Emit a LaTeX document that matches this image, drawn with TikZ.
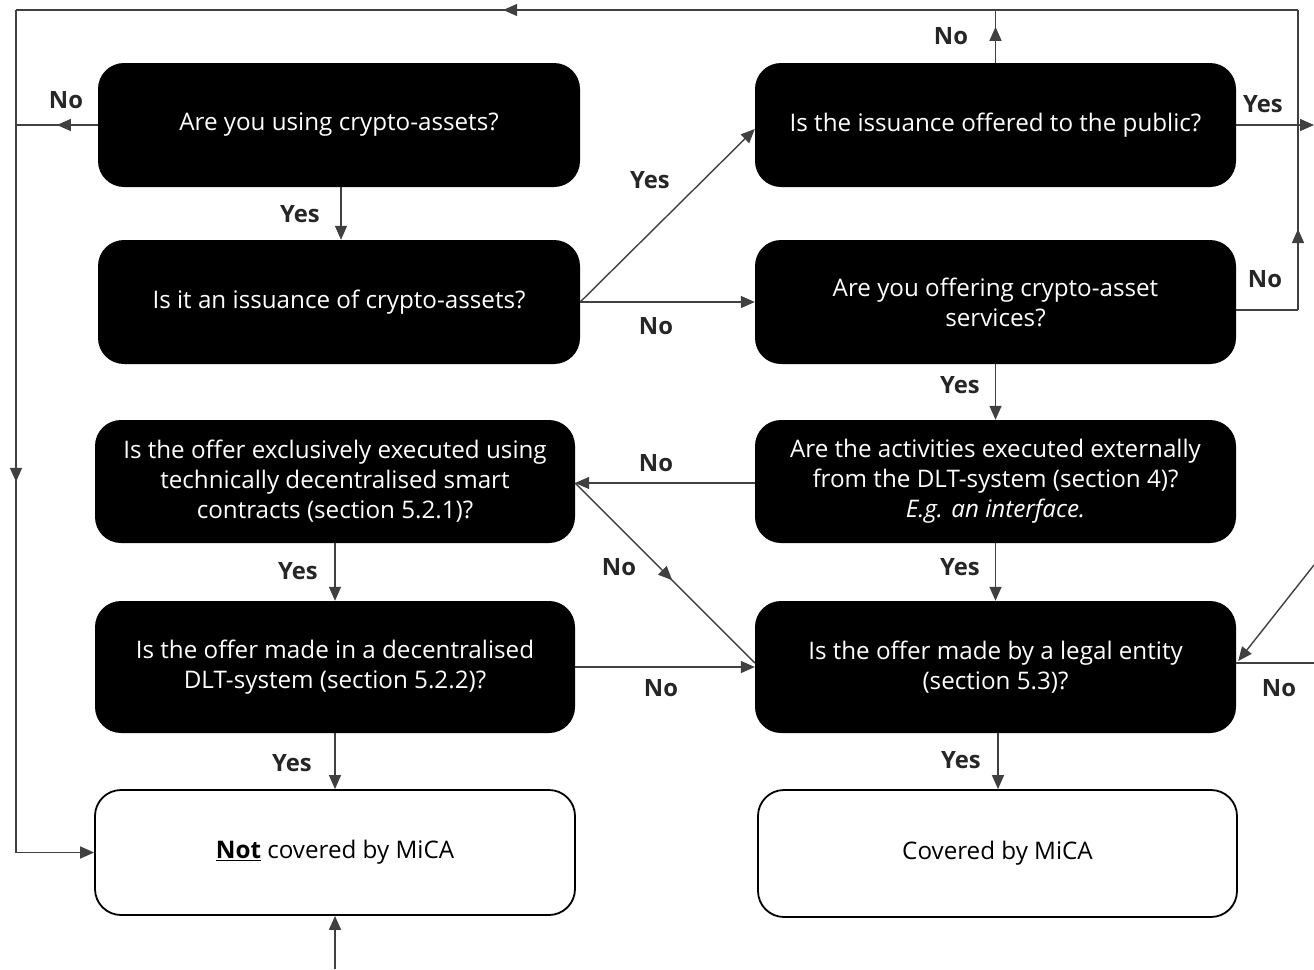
\documentclass[tikz,border=0pt]{standalone}
\usepackage{fontspec}
\setmainfont{Open Sans}
\usetikzlibrary{arrows.meta,decorations.markings,calc}
\begin{document}
\begin{tikzpicture}[x=1pt,y=-1pt,
  qbox/.style={fill=black, text=white, rounded corners=26pt, minimum width=482pt, minimum height=124pt, align=center, inner sep=0pt, font=\fontsize{24.2}{30}\selectfont},
  wbox/.style={draw=black, line width=1.8pt, fill=white, text=black, rounded corners=26pt, minimum width=480pt, minimum height=125pt, align=center, inner sep=0pt, font=\fontsize{24.2}{30}\selectfont},
  conn/.style={draw=black!75, line width=1.4pt},
  tipend/.style={-{Triangle[length=14pt,width=12pt]}},
  midarr/.style={postaction={decorate}, decoration={markings, mark=at position #1 with {\arrow{Triangle[length=14pt,width=12pt]}}}},
  lbl/.style={font=\bfseries\fontsize{23.8}{28}\selectfont, text=black!85, inner sep=0pt}
]
\useasboundingbox (0,0) rectangle (1314,969);

% question boxes
\node[qbox] (A) at (339,125) {Are you using crypto-assets?};
\node[qbox] (B) at (339,302) {Is it an issuance of crypto-assets?};
\node[qbox, minimum width=481pt] (C) at (995.5,125) {Is the issuance offered to the public?};
\node[qbox, minimum width=481pt] (D) at (995.5,302) {Are you offering crypto-asset\\services?};
\node[qbox, minimum width=481pt, minimum height=123pt] (E) at (995.5,481.5) {Are the activities executed externally\\from the DLT-system (section 4)?\\\textit{E.g. an interface.}};
\node[qbox, minimum width=480pt, minimum height=123pt] (F) at (335,481.5) {Is the offer exclusively executed using\\technically decentralised smart\\contracts (section 5.2.1)?};
\node[qbox, minimum width=480pt, minimum height=132pt] (G) at (335,667) {Is the offer made in a decentralised\\DLT-system (section 5.2.2)?};
\node[qbox, minimum width=481pt, minimum height=132pt] (H) at (995.5,667) {Is the offer made by a legal entity\\(section 5.3)?};
% result boxes
\node[wbox] (I) at (335,852.5) {\textbf{\underline{Not}} covered by MiCA};
\node[wbox, minimum width=479pt, minimum height=127pt] (J) at (997.5,853.5) {Covered by MiCA};

% auxiliary coordinates
\coordinate (ltop) at (16,10);
\coordinate (lmid) at (16,125);
\coordinate (lbot) at (16,852.5);
\coordinate (rtop) at (1298,10);
\coordinate (rmid) at (1298,310);
\coordinate (ctop) at (995.5,10);
\coordinate (cout) at (1314,125);
\coordinate (hout) at (1314,663);
\coordinate (hin) at (1314,565);
\coordinate (ibot) at (335,969);

% connectors
\draw[conn, midarr=0.5] (A.west) -- (lmid);
\draw[conn, midarr=0.62] (rtop) -- (ltop);
\draw[conn, midarr=0.56] (ltop) -- (lbot);
\draw[conn, tipend] (lbot) -- (I.west);
\draw[conn, midarr=0.68] (C.north) -- (ctop);
\draw[conn] ($(D.east)+(0,8)$) -- (rmid);
\draw[conn, midarr=0.27] (rmid) -- (rtop);
\draw[conn, tipend] (C.east) -- (cout);
\draw[conn, tipend] (A.south -| 341,0) -- (B.north -| 341,0);
\draw[conn, tipend] (B.east) -- ($(C.west)+(0,4)$);
\draw[conn, tipend] (B.east) -- (D.west);
\draw[conn, tipend] (D.south) -- (E.north);
\draw[conn, tipend] ($(E.west)+(0,1.5)$) -- ($(F.east)+(0,1.5)$);
\draw[conn, midarr=0.54] ($(F.east)+(0,1.5)$) -- ($(H.west)+(0,-4)$);
\draw[conn, tipend] (E.south) -- (H.north);
\draw[conn, tipend] (F.south) -- (G.north);
\draw[conn, tipend] (G.east) -- (H.west);
\draw[conn, tipend] (G.south) -- (I.north);
\draw[conn, tipend] (H.south -| 998,0) -- (J.north -| 998,0);
\draw[conn] ($(H.east)+(0,-4)$) -- (hout);
\draw[conn, tipend] (hin) -- ($(H.east)+(2,-6)$);
\draw[conn, tipend] (ibot) -- (I.south);

% labels
\node[lbl] at (66,100) {No};
\node[lbl] at (300,214) {Yes};
\node[lbl] at (951,36) {No};
\node[lbl] at (1263,104) {Yes};
\node[lbl] at (650,180) {Yes};
\node[lbl] at (656,326) {No};
\node[lbl] at (1265,279) {No};
\node[lbl] at (960,385) {Yes};
\node[lbl] at (656,463) {No};
\node[lbl] at (619,567) {No};
\node[lbl] at (298,571) {Yes};
\node[lbl] at (960,567) {Yes};
\node[lbl] at (661,688) {No};
\node[lbl] at (1279,688) {No};
\node[lbl] at (292,763) {Yes};
\node[lbl] at (961,760) {Yes};
\end{tikzpicture}
\end{document}
